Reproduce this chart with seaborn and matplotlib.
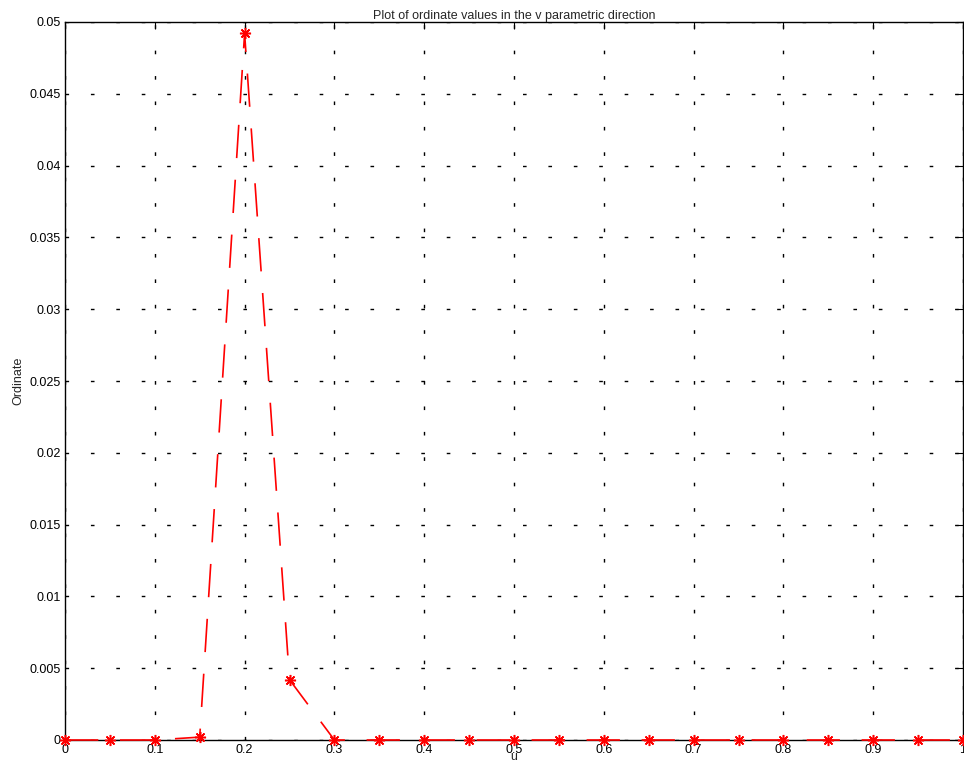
import matplotlib
matplotlib.use("Agg")
import matplotlib.pyplot as plt
import seaborn as sns
import pandas as pd
import numpy as np

u_values = [0.0, 0.05, 0.1, 0.15, 0.2, 0.25, 0.3, 0.35, 0.4, 0.45, 0.5,
            0.55, 0.6, 0.65, 0.7, 0.75, 0.8, 0.85, 0.9, 0.95, 1.0]
ordinate = [0.0, 0.0, 0.0, 0.0002, 0.0492, 0.0042, 0.0, 0.0, 0.0, 0.0, 0.0,
            0.0, 0.0, 0.0, 0.0, 0.0, 0.0, 0.0, 0.0, 0.0, 0.0]
x_ticks = [0, 0.1, 0.2, 0.3, 0.4, 0.5, 0.6, 0.7, 0.8, 0.9, 1]
x_ticklabels = ["0", "0.1", "0.2", "0.3", "0.4", "0.5", "0.6", "0.7", "0.8", "0.9", "1"]
y_ticks = [0, 0.005, 0.01, 0.015, 0.02, 0.025, 0.03, 0.035, 0.04, 0.045, 0.05]
y_ticklabels = ["0", "0.005", "0.01", "0.015", "0.02", "0.025", "0.03", "0.035", "0.04", "0.045", "0.05"]

sns.set_style("white")
plt.rcParams['font.family'] = ['Liberation Sans', 'DejaVu Sans']

df = pd.DataFrame({"u": u_values, "Ordinate": ordinate})

fig = plt.figure(figsize=(9.64, 7.67), dpi=100)
ax = fig.add_axes([65/964, 1 - 740/767, (963 - 65)/964, (740 - 22)/767])

sns.lineplot(data=df, x="u", y="Ordinate", ax=ax, color="red", linewidth=1.2,
             marker=(8, 2, 0), markersize=8, markeredgecolor="red", markerfacecolor="red",
             markeredgewidth=1.1, dashes=False, zorder=3)
line = ax.get_lines()[0]
line.set_linestyle((0, (20, 13)))
line.set_clip_on(False)

ax.set_xlim(0, 1)
ax.set_ylim(0, 0.05)
ax.set_xticks(x_ticks)
ax.set_xticklabels(x_ticklabels)
ax.set_yticks(y_ticks)
ax.set_yticklabels(y_ticklabels)

ax.grid(True, color="black", linestyle=(0, (2.6, 15.7)), linewidth=1.0)
ax.tick_params(direction="in", length=5, width=0.8, labelsize=9, colors="black",
               top=True, right=True, pad=3)
for s in ax.spines.values():
    s.set_color("black")
    s.set_linewidth(1.0)

ax.set_title("Plot of ordinate values in the v parametric direction", fontsize=9, pad=2)
ax.set_xlabel("u", fontsize=9, labelpad=-4)
ax.set_ylabel("Ordinate", fontsize=9, labelpad=4)

fig.savefig("out.png", dpi=100)
